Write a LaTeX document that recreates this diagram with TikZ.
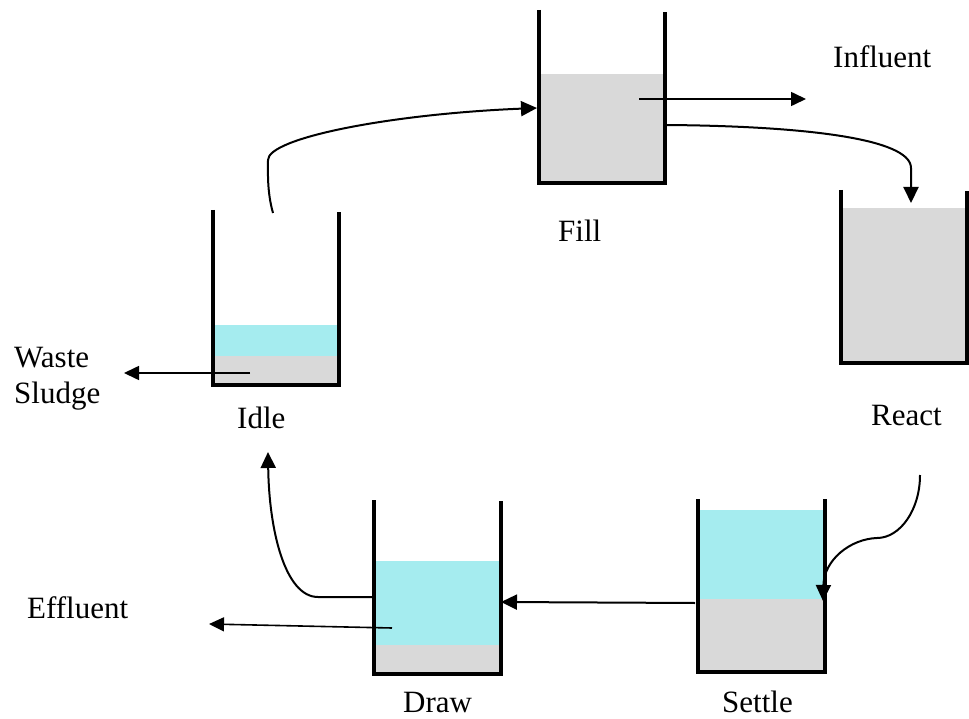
\documentclass[tikz,border=0pt]{standalone}
\usepackage{fontspec}
\setmainfont{Liberation Serif}
\usetikzlibrary{arrows.meta}
\definecolor{sludge}{HTML}{D9D9D9}
\definecolor{water}{HTML}{A5ECEF}
\tikzset{
  wall/.style={line width=3.6pt, line cap=butt, line join=miter},
  flow/.style={line width=1.6pt, -{Triangle[length=15pt,width=14pt]}},
  link/.style={line width=2pt, -{Triangle[length=16pt,width=15pt]}},
  lbl/.style={anchor=base west, inner sep=0pt, font=\fontsize{31}{37}\selectfont}
}
\begin{document}
\begin{tikzpicture}[x=1pt,y=-1pt]
\useasboundingbox (0,0) rectangle (969,719);

% ---- Fill tank
\fill[sludge] (541,74) rectangle (664,183);
\draw[wall] (539,10) -- (539,183) -- (665,183) -- (665,12);
\coordinate (fillin) at (537,108);
\coordinate (fillout) at (666,125);
\coordinate (fillmix) at (639,99);
\node[lbl] (fillT) at (558,242) {Fill};
\node[lbl] (influentT) at (833,68) {Influent};
\coordinate (influent) at (806,99);

% ---- React tank
\fill[sludge] (843,208) rectangle (965,363);
\draw[wall] (841,190) -- (841,363) -- (967,363) -- (967,191);
\coordinate (reactin) at (911,203);
\coordinate (reactout) at (920,475);
\node[lbl] (reactT) at (871,425) {React};

% ---- Settle tank
\fill[sludge] (700,599) rectangle (823,672);
\fill[water] (700,510) rectangle (823,599);
\draw[wall] (698,499) -- (698,672) -- (825,672) -- (825,499);
\coordinate (settlein) at (823,601);
\coordinate (settleout) at (695,603);
\node[lbl] (settleT) at (722,712) {Settle};

% ---- Draw tank
\fill[sludge] (376,645) rectangle (499,674);
\fill[water] (376,561) rectangle (499,645);
\draw[wall] (374,500) -- (374,674) -- (501,674) -- (501,501);
\coordinate (drawin) at (501,602);
\coordinate (drawout) at (372,597);
\coordinate (drawmix) at (392,628);
\node[lbl] (drawT) at (403,712) {Draw};
\node[lbl] (effluentT) at (27,618) {Effluent};
\coordinate (effluent) at (209,624);

% ---- Idle tank
\fill[sludge] (215,356) rectangle (337,385);
\fill[water] (215,325) rectangle (337,356);
\draw[wall] (213,210) -- (213,385) -- (339,385) -- (339,212);
\coordinate (idlein) at (268,452);
\coordinate (idleout) at (273,213);
\coordinate (idlemix) at (250,373);
\node[lbl] (idleT) at (237,428) {Idle};
\node[lbl] (wasteT) at (14,367) {Waste};
\node[lbl] (sludgeT) at (14,403) {Sludge};
\coordinate (waste) at (124,373);

% ---- cycle connectors
\draw[link] (idleout) .. controls (267,192) and (268,172) .. (268,160)
  .. controls (268,138) and (390,114) .. (fillin);
\draw[link] (fillout) .. controls (800,126) and (911,138) .. (911,168) -- (reactin);
\draw[link] (reactout) .. controls (920,510) and (900,538) .. (877,538)
  .. controls (850,539) and (824,560) .. (settlein);
\draw[link] (settleout) -- (drawin);
\draw[link] (drawout) -- (318,597) .. controls (285,597) and (269,530) .. (idlein);

% ---- feed and withdrawal lines
\draw[flow] (fillmix) -- (influent);
\draw[flow] (drawmix) -- (effluent);
\draw[flow] (idlemix) -- (waste);
\end{tikzpicture}
\end{document}
